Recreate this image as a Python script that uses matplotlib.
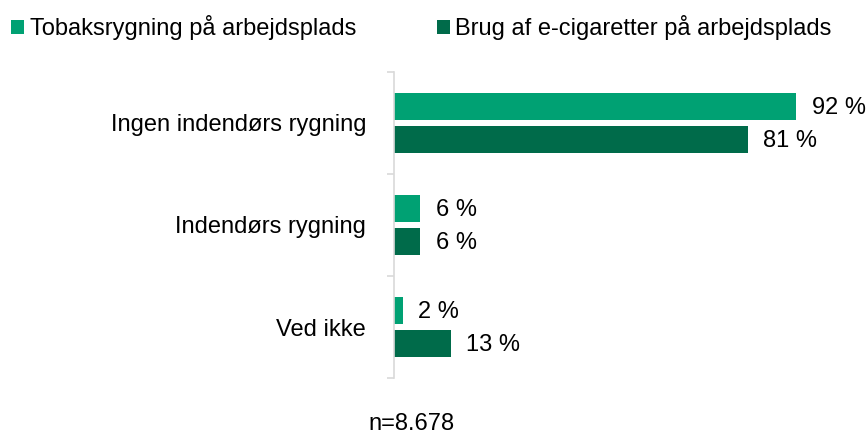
import numpy as np
import matplotlib.pyplot as plt

plt.rcParams['font.family'] = ['Liberation Sans', 'DejaVu Sans']

categories = ['Ingen indendørs rygning', 'Indendørs rygning', 'Ved ikke']
tobak = [92, 6, 2]
ecig = [81, 6, 13]
series_names = ['Tobaksrygning på arbejdsplads', 'Brug af e-cigaretter på arbejdsplads']
note = 'n=8.678'

light = '#00a173'
dark = '#006b4a'
grid_col = '#d9d9d9'
fs = 17

fig = plt.figure(figsize=(8.68, 4.34), dpi=100)
ax = fig.add_axes([394/868, 1-378/434, 446/868, 306/434])

y = np.arange(len(categories))
off = 0.162
h = 0.265
b1 = ax.barh(y - off, tobak, height=h, color=light, label=series_names[0])
b2 = ax.barh(y + off, ecig, height=h, color=dark, label=series_names[1])

for bars, vals in ((b1, tobak), (b2, ecig)):
    for r, v in zip(bars, vals):
        ax.annotate(f'{v} %', (r.get_width(), r.get_y() + r.get_height()/2),
                    xytext=(11, -1), textcoords='offset points',
                    va='center', ha='left', fontsize=fs)

ax.set_xlim(0, 102)
ax.set_ylim(len(categories) - 0.5, -0.5)
ax.set_xticks([])
ax.set_yticks(np.arange(len(categories) + 1) - 0.5)
ax.set_yticklabels([])
ax.tick_params(axis='y', which='major', length=5, color=grid_col, width=1.2)
ax.set_yticks(y, minor=True)
ax.set_yticklabels(categories, minor=True, fontsize=fs)
ax.tick_params(axis='y', which='minor', length=0, pad=20)
for s in ['top', 'right', 'bottom']:
    ax.spines[s].set_visible(False)
ax.spines['left'].set_color(grid_col)
ax.spines['left'].set_linewidth(1.2)

fig.legend(handles=[b1, b2], loc='center left', bbox_to_anchor=(11/868, 1-28/434),
           ncol=2, frameon=False, fontsize=fs, handlelength=0.55, handleheight=0.55,
           handletextpad=0.25, columnspacing=3.4, borderpad=0, borderaxespad=0)

fig.text(412/868, 1-424/434, note, ha='center', va='center', fontsize=fs)

fig.savefig('out.png', dpi=100)
